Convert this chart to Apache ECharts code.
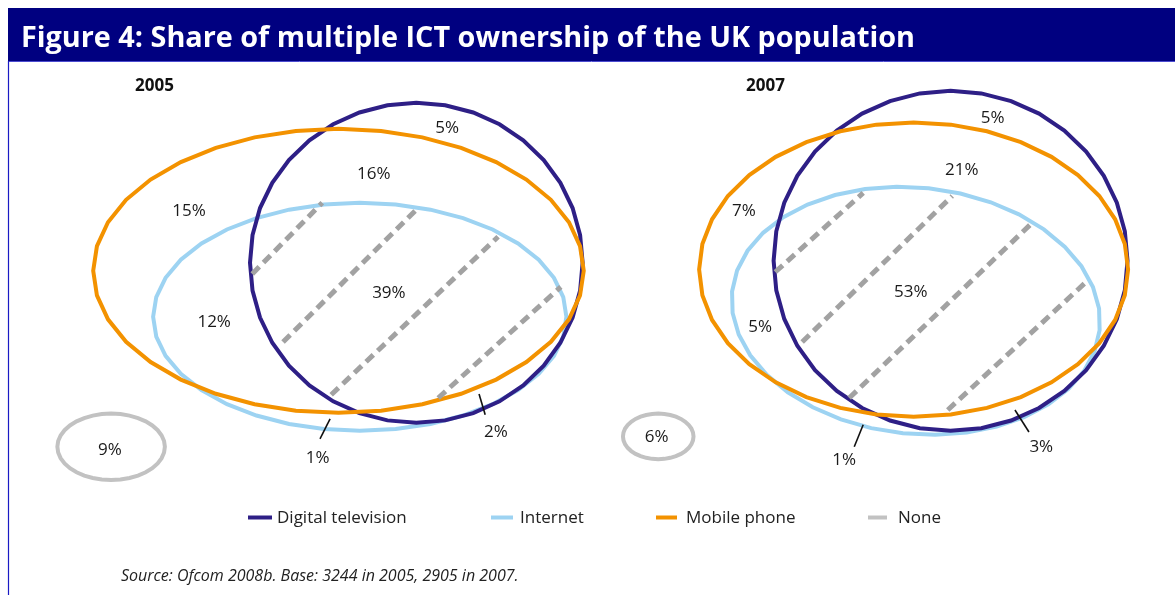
<!DOCTYPE html>
<html>
<head>
<meta charset="utf-8">
<script src="https://cdn.jsdelivr.net/npm/echarts@6/dist/echarts.min.js"></script>
<style>
html,body{margin:0;padding:0;background:#fff;}
#chart{width:1175px;height:595px;}
</style>
</head>
<body>
<div id="chart"></div>
<script>
// ---- Data ----
const categories = ['Digital television', 'Internet', 'Mobile phone', 'None'];
const years = ['2005', '2007'];

// Venn ellipses: [centreX, centreY, radiusX, radiusY, tiltDeg] in panel units (0-100)
const tv2005   = [67.2, 54.3, 29.7, 40.0, 0];
const net2005  = [57.1, 40.8, 36.9, 28.5, 0];
const mob2005  = [53.3, 52.3, 43.8, 35.5, 0];
const none2005 = [12.7, 8.3, 9.6, 8.3, 0];

const tv2007   = [62.6, 54.8, 31.6, 42.5, 0];
const net2007  = [56.4, 42.3, 33.0, 30.8, 6];
const mob2007  = [56.0, 52.6, 38.3, 36.8, 0];
const none2007 = [10.4, 10.9, 6.3, 5.7, 0];

// Region shares (%) and where each label sits
const shares2005 = [5, 16, 15, 12, 39, 1, 2, 9];
const shareX2005 = [72.7, 59.6, 26.6, 31.1, 62.3, 49.6, 81.4, 12.5];
const shareY2005 = [88.0, 76.5, 67.3, 39.5, 46.8, 5.5, 12.0, 7.5];

const shares2007 = [5, 21, 7, 5, 53, 1, 3, 6];
const shareX2007 = [70.1, 64.6, 25.7, 28.6, 55.5, 43.6, 78.8, 10.1];
const shareY2007 = [90.4, 77.5, 67.1, 38.3, 46.9, 5.0, 8.1, 10.6];

// Hatching across the all-three region: [x1, y1, x2, y2]
const hatch2005 = [[37.9, 51.5, 50.4, 69.3], [43.4, 34.5, 67.0, 67.3], [52.0, 21.3, 81.8, 60.8], [71.1, 20.5, 93.0, 48.3]];
const hatch2007 = [[31.3, 52.0, 47.0, 71.8], [36.1, 34.5, 62.9, 71.0], [44.5, 20.5, 76.8, 63.8], [62.1, 17.5, 86.8, 49.5]];

// Leader lines for small regions
const leader2005 = [[51.8, 15.3, 50.0, 10.3], [78.4, 21.5, 79.5, 16.3]];
const leader2007 = [[47.0, 13.8, 45.4, 8.3], [74.1, 17.5, 76.6, 12.0]];

// ---- Styles ----
const colorMap = {
  'Digital television': '#2e1f86',
  'Internet': '#9dd3f2',
  'Mobile phone': '#f39200',
  'None': '#c2c2c2'
};
const FONT = '"Open Sans", "Noto Sans", sans-serif';

const chart = echarts.init(document.getElementById('chart'), null, {renderer: 'canvas'});

function ellipseRender(params, api) {
  const c = api.coord([api.value(0), api.value(1)]);
  const s = api.size([api.value(2), api.value(3)]);
  const th = api.value(4) * Math.PI / 180;
  const n = 36;
  const pts = [];
  for (let i = 0; i < n; i++) {
    const t = 2 * Math.PI * i / n;
    const x = s[0] * Math.cos(t), y = s[1] * Math.sin(t);
    pts.push([c[0] + x * Math.cos(th) - y * Math.sin(th), c[1] + x * Math.sin(th) + y * Math.cos(th)]);
  }
  return {
    type: 'polygon',
    shape: {points: pts},
    style: {fill: 'none', stroke: api.visual('color'), lineWidth: 4, lineJoin: 'miter'}
  };
}

function ellipseSeries(name, data, idx) {
  return {
    type: 'custom', name: name, xAxisIndex: idx, yAxisIndex: idx,
    renderItem: ellipseRender, silent: true,
    itemStyle: {color: colorMap[name]},
    data: [data], animation: false
  };
}

function labelSeries(shares, xs, ys, idx) {
  return {
    type: 'custom', name: 'labels' + idx, xAxisIndex: idx, yAxisIndex: idx, silent: true,
    renderItem: function (params, api) {
      const p = api.coord([api.value(0), api.value(1)]);
      return {type: 'text', x: p[0], y: p[1],
        style: {text: api.value(2) + '%', fill: '#1a1a1a', font: '17px ' + FONT, align: 'center', verticalAlign: 'middle'}};
    },
    data: shares.map((v, i) => [xs[i], ys[i], v]), animation: false
  };
}

function segSeries(name, segs, idx, style) {
  return {
    type: 'custom', name: name, xAxisIndex: idx, yAxisIndex: idx, silent: true, animation: false,
    renderItem: function (params, api) {
      const a = api.coord([api.value(0), api.value(1)]);
      const b = api.coord([api.value(2), api.value(3)]);
      return {type: 'line', shape: {x1: a[0], y1: a[1], x2: b[0], y2: b[1]},
        style: {stroke: style.color, lineWidth: style.width, lineDash: style.dash, lineCap: 'butt'}};
    },
    data: segs
  };
}

const hatchStyle = {color: '#a2a2a2', width: 5, dash: [10, 6]};
const leaderStyle = {color: '#111', width: 1.6, dash: null};

// legend layout: item left edge, swatch position and width
const legendLefts = [248, 491, 657, 869];
const swatchLefts = [248, 491, 656, 868];
const swatchWidths = [24, 22, 21, 19];

const option = {
  backgroundColor: '#fff',
  animation: false,
  title: [
    {text: 'Figure 4: Share of multiple ICT ownership of the UK population', left: 21, top: 24, padding: 0,
      textStyle: {color: '#fff', fontSize: 28.8, fontWeight: 'bold', fontFamily: FONT}},
    {text: years[0], left: 135, top: 78, padding: 0, textStyle: {color: '#111', fontSize: 17, fontWeight: 'bold', fontFamily: FONT}},
    {text: years[1], left: 746, top: 78, padding: 0, textStyle: {color: '#111', fontSize: 17, fontWeight: 'bold', fontFamily: FONT}},
    {text: 'Source: Ofcom 2008b. Base: 3244 in 2005, 2905 in 2007.', left: 121, top: 568, padding: 0,
      textStyle: {color: '#222', fontSize: 16, fontWeight: 'normal', fontStyle: 'italic', fontFamily: FONT}}
  ],
  graphic: [
    {type: 'rect', z: -10, shape: {x: 8, y: 8, width: 1167, height: 53}, style: {fill: '#000080'}},
    {type: 'line', z: -10, shape: {x1: 8, y1: 61.5, x2: 1175, y2: 61.5}, style: {stroke: '#4b4bd0', lineWidth: 1}},
    {type: 'line', z: -10, shape: {x1: 8.5, y1: 61, x2: 8.5, y2: 595}, style: {stroke: '#1a1ac4', lineWidth: 1.2}}
  ].concat(categories.map((c, i) => ({
    type: 'rect', z: 100, silent: true,
    shape: {x: swatchLefts[i], y: 515.5, width: swatchWidths[i], height: 4},
    style: {fill: colorMap[c]}
  }))),
  legend: categories.map((c, i) => ({
    data: [{name: c, icon: 'rect',
      itemStyle: {color: colorMap[c], borderWidth: 0, opacity: 0},
      lineStyle: {width: 0, opacity: 0}}],
    left: legendLefts[i], top: 510, icon: 'rect', itemWidth: 24, itemHeight: 4,
    selectedMode: false, padding: 0,
    itemStyle: {borderWidth: 0, opacity: 0},
    lineStyle: {width: 0, opacity: 0},
    textStyle: {color: '#222', fontSize: 17, fontFamily: FONT}
  })),
  grid: [
    {left: 40, top: 80, width: 560, height: 400},
    {left: 600, top: 80, width: 560, height: 400}
  ],
  xAxis: [0, 1].map(i => ({type: 'value', gridIndex: i, min: 0, max: 100, show: false})),
  yAxis: [0, 1].map(i => ({type: 'value', gridIndex: i, min: 0, max: 100, show: false})),
  series: [
    ellipseSeries('Internet', net2005, 0),
    ellipseSeries('Digital television', tv2005, 0),
    ellipseSeries('Mobile phone', mob2005, 0),
    ellipseSeries('None', none2005, 0),
    segSeries('hatch2005', hatch2005, 0, hatchStyle),
    segSeries('leader2005', leader2005, 0, leaderStyle),
    labelSeries(shares2005, shareX2005, shareY2005, 0),

    ellipseSeries('Internet', net2007, 1),
    ellipseSeries('Digital television', tv2007, 1),
    ellipseSeries('Mobile phone', mob2007, 1),
    ellipseSeries('None', none2007, 1),
    segSeries('hatch2007', hatch2007, 1, hatchStyle),
    segSeries('leader2007', leader2007, 1, leaderStyle),
    labelSeries(shares2007, shareX2007, shareY2007, 1)
  ]
};
chart.setOption(option);
</script>
</body>
</html>
